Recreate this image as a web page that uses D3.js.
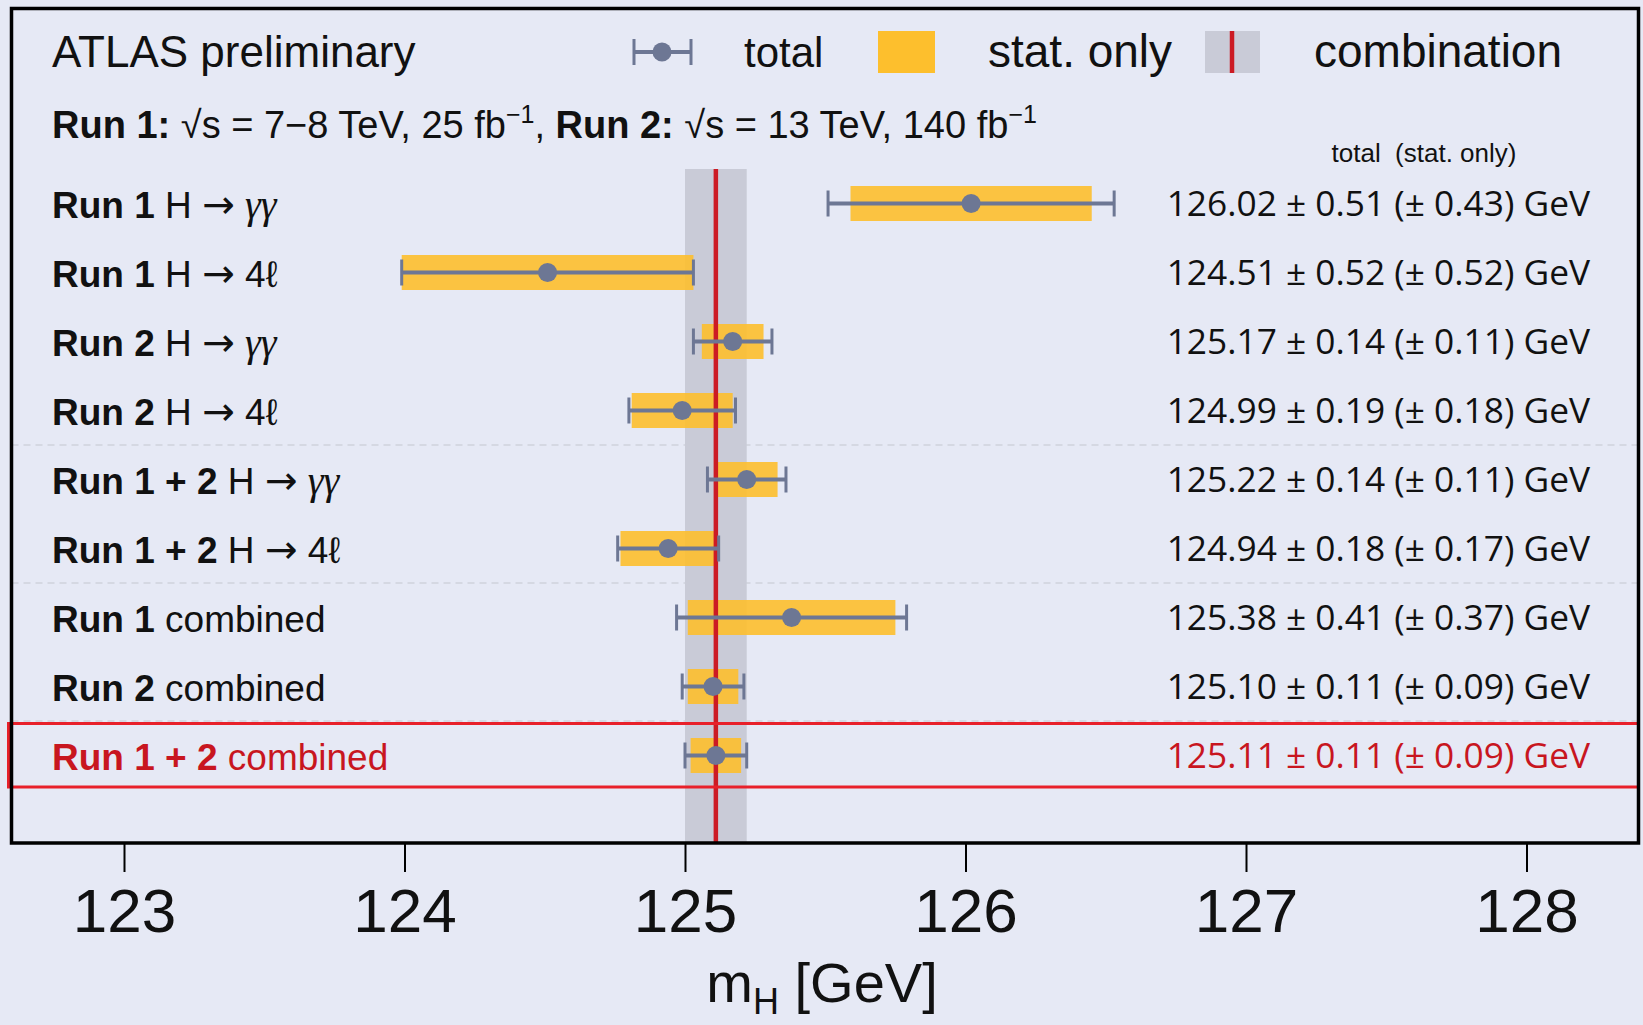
<!DOCTYPE html>
<html><head><meta charset="utf-8">
<script src="https://cdn.jsdelivr.net/npm/d3@7"></script>
<style>
html,body{margin:0;padding:0;background:#e6e9f5;}
svg{display:block;}
</style></head>
<body>
<svg id="chart" width="1643" height="1025"></svg>
<script>
// ---- data ----
const labelsBold = ["Run 1","Run 1","Run 2","Run 2","Run 1 + 2","Run 1 + 2","Run 1","Run 2","Run 1 + 2"];
const labelsRest = ["H \u2192 \u03b3\u03b3","H \u2192 4\u2113","H \u2192 \u03b3\u03b3","H \u2192 4\u2113","H \u2192 \u03b3\u03b3","H \u2192 4\u2113","combined","combined","combined"];
const massValues = [126.02,124.51,125.17,124.99,125.22,124.94,125.38,125.10,125.11];
const totalErrors = [0.51,0.52,0.14,0.19,0.14,0.18,0.41,0.11,0.11];
const statErrors  = [0.43,0.52,0.11,0.18,0.11,0.17,0.37,0.09,0.09];
const comboValue = 125.11;
const comboError = 0.11;
const xTicks = [123,124,125,126,127,128];
const separatorsAfter = [3,5,7]; // dashed line after these row indices
const highlightRow = 8;

// ---- layout ----
const W = 1643, H = 1025;
const frame = {left:11.5, top:8.5, right:1638.5, bottom:843};
const svg = d3.select("#chart");
const x = d3.scaleLinear().domain([123,128]).range([124,1526.5]);
const y = d3.scaleLinear().domain([0,8]).range([203.5,755.5]);

const colBg = "#e6e9f5", colYellow = "#fdbf2d", colErr = "#6d7794", colBand = "#c9cbd7",
      colRed = "#cc1b24", colHl = "#e8202a", colText = "#111111", colRedText = "#c8161f";
const fLabel = "'Liberation Sans', Arial, sans-serif";
const fValue = "'Open Sans', sans-serif";

svg.append("rect").attr("width",W).attr("height",H).attr("fill",colBg);

// separators
separatorsAfter.forEach(i=>{
  svg.append("line").attr("x1",frame.left).attr("x2",frame.right)
    .attr("y1",y(i+0.5)).attr("y2",y(i+0.5))
    .attr("stroke","#cfd2dc").attr("stroke-width",1.5).attr("stroke-dasharray","7,5");
});

// combination band
svg.append("rect").attr("x",x(comboValue-comboError)).attr("width",x(comboValue+comboError)-x(comboValue-comboError))
  .attr("y",169).attr("height",frame.bottom-169).attr("fill",colBand);

const idx = d3.range(massValues.length);
// stat bars
svg.append("g").selectAll("rect").data(idx).join("rect")
  .attr("x",i=>x(massValues[i]-statErrors[i]))
  .attr("width",i=>x(massValues[i]+statErrors[i])-x(massValues[i]-statErrors[i]))
  .attr("y",i=>y(i)-17.5).attr("height",35)
  .attr("fill",colYellow).attr("fill-opacity",0.9);

// combination line
svg.append("line").attr("x1",x(comboValue)).attr("x2",x(comboValue))
  .attr("y1",169).attr("y2",frame.bottom).attr("stroke",colRed).attr("stroke-width",4.5);

// error bars
const eg = svg.append("g").attr("stroke",colErr).attr("stroke-width",4);
idx.forEach(i=>{
  const x0 = x(massValues[i]-totalErrors[i]), x1 = x(massValues[i]+totalErrors[i]), yy = y(i);
  eg.append("line").attr("x1",x0).attr("x2",x1).attr("y1",yy).attr("y2",yy);
  eg.append("line").attr("x1",x0).attr("x2",x0).attr("y1",yy-13).attr("y2",yy+13).attr("stroke-width",3);
  eg.append("line").attr("x1",x1).attr("x2",x1).attr("y1",yy-13).attr("y2",yy+13).attr("stroke-width",3);
});
svg.append("g").selectAll("circle").data(idx).join("circle")
  .attr("cx",i=>x(massValues[i])).attr("cy",i=>y(i)).attr("r",9.5).attr("fill",colErr);

// row labels
function addRest(t, s){
  const parts = s.split(/(\u2192|\u03b3+)/);
  parts.forEach(p=>{
    if(!p) return;
    const ts = t.append("tspan").text(p);
    if(p === "\u2192") ts.attr("font-family","'DejaVu Sans', sans-serif").attr("font-size",39);
    else if(p[0] === "\u03b3") ts.attr("font-family","'Liberation Serif', serif").attr("font-style","italic").attr("font-size",40);
  });
}
idx.forEach(i=>{
  const t = svg.append("text").attr("x",52).attr("y",y(i)+14)
    .attr("font-family",fLabel).attr("font-size",37)
    .attr("fill", i===highlightRow ? colRedText : colText)
    .attr("xml:space","preserve");
  t.append("tspan").attr("font-weight","bold").text(labelsBold[i]);
  t.append("tspan").text(" ");
  addRest(t, labelsRest[i]);
});

// value texts
svg.append("g").selectAll("text").data(idx).join("text")
  .attr("x",1590).attr("y",i=>y(i)+12).attr("text-anchor","end")
  .attr("font-family",fValue).attr("font-size",35.3)
  .attr("fill",i=>i===highlightRow ? colRedText : colText)
  .text(i=>`${massValues[i].toFixed(2)} \u00b1 ${totalErrors[i].toFixed(2)} (\u00b1 ${statErrors[i].toFixed(2)}) GeV`);

svg.append("text").attr("x",1424).attr("y",162).attr("text-anchor","middle")
  .attr("font-family",fLabel).attr("font-size",26).attr("fill",colText)
  .attr("xml:space","preserve").text("total  (stat. only)");

// highlight box
svg.append("rect").attr("x",8.5).attr("y",723.5).attr("width",1630).attr("height",63.5)
  .attr("fill","none").attr("stroke",colHl).attr("stroke-width",3);

// frame
svg.append("rect").attr("x",frame.left).attr("y",frame.top)
  .attr("width",frame.right-frame.left).attr("height",frame.bottom-frame.top)
  .attr("fill","none").attr("stroke","#000").attr("stroke-width",3.5);

// x axis
const axis = d3.axisBottom(x).tickValues(xTicks).tickSize(29).tickPadding(0).tickFormat(d3.format("d"));
const ag = svg.append("g").attr("transform",`translate(0,${frame.bottom})`).call(axis);
ag.select(".domain").remove();
ag.selectAll(".tick line").attr("stroke","#000").attr("stroke-width",2);
ag.selectAll(".tick text").attr("font-family",fLabel).attr("font-size",62).attr("fill",colText)
  .attr("dy",null).attr("y",89);

// axis title
const at = svg.append("text").attr("x",822).attr("y",1002).attr("text-anchor","middle")
  .attr("font-family",fLabel).attr("font-size",56).attr("fill",colText);
at.append("tspan").text("m");
at.append("tspan").attr("font-size",36).attr("dy",12).text("H");
at.append("tspan").attr("dy",-12).text(" [GeV]");

// title
svg.append("text").attr("x",52).attr("y",67).attr("font-family",fLabel).attr("font-size",44)
  .attr("fill",colText).text("ATLAS preliminary");

// subtitle
const st = svg.append("text").attr("x",52).attr("y",138).attr("font-family",fLabel).attr("font-size",38).attr("fill",colText);
st.append("tspan").attr("font-weight","bold").text("Run 1:");
st.append("tspan").text(" \u221as = 7\u22128 TeV, 25 fb");
st.append("tspan").attr("font-size",25).attr("dy",-15).text("\u22121");
st.append("tspan").attr("dy",15).text(", ");
st.append("tspan").attr("font-weight","bold").text("Run 2:");
st.append("tspan").text(" \u221as = 13 TeV, 140 fb");
st.append("tspan").attr("font-size",25).attr("dy",-15).text("\u22121");

// legend
const ly = 52;
const lg = svg.append("g");
lg.append("line").attr("x1",634).attr("x2",691).attr("y1",ly).attr("y2",ly).attr("stroke",colErr).attr("stroke-width",4);
lg.append("line").attr("x1",634).attr("x2",634).attr("y1",ly-13).attr("y2",ly+13).attr("stroke",colErr).attr("stroke-width",3);
lg.append("line").attr("x1",691).attr("x2",691).attr("y1",ly-13).attr("y2",ly+13).attr("stroke",colErr).attr("stroke-width",3);
lg.append("circle").attr("cx",662).attr("cy",ly).attr("r",9.5).attr("fill",colErr);
lg.append("text").attr("x",744).attr("y",67).attr("font-family",fLabel).attr("font-size",42).attr("fill",colText).text("total");
lg.append("rect").attr("x",878).attr("y",31).attr("width",57).attr("height",42).attr("fill",colYellow);
lg.append("text").attr("x",988).attr("y",67).attr("font-family",fLabel).attr("font-size",46).attr("fill",colText).text("stat. only");
lg.append("rect").attr("x",1205).attr("y",31).attr("width",55).attr("height",42).attr("fill",colBand);
lg.append("line").attr("x1",1232).attr("x2",1232).attr("y1",31).attr("y2",73).attr("stroke",colRed).attr("stroke-width",4.5);
lg.append("text").attr("x",1314).attr("y",67).attr("font-family",fLabel).attr("font-size",46).attr("fill",colText).text("combination");
</script>
</body></html>
